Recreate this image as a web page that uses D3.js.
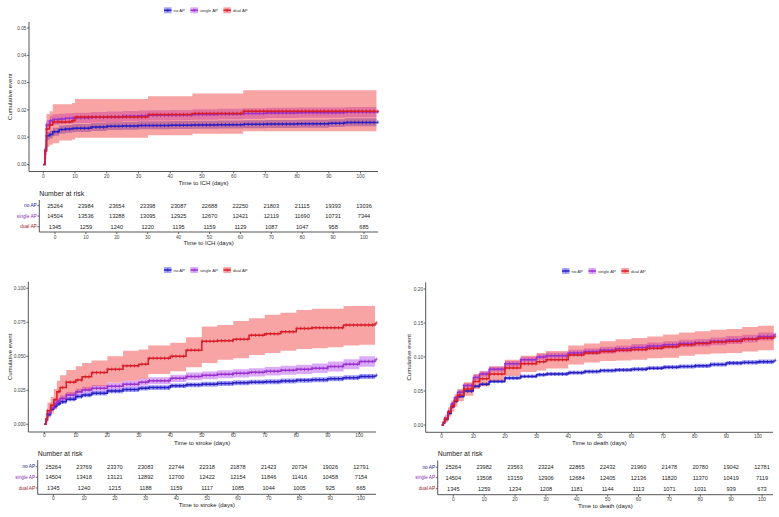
<!DOCTYPE html>
<html>
<head>
<meta charset="utf-8">
<script src="https://cdn.jsdelivr.net/npm/d3@7"></script>
<style>
  body { margin: 0; background: #fff; }
  svg { display: block; font-family: "Liberation Sans", Arial, sans-serif; }
</style>
</head>
<body>
<svg width="779" height="517"></svg>
<script>
// groups and colours
const groups = ['no AP', 'single AP', 'dual AP'];
const lineColors = ['#2a1fc0', '#9a32cd', '#d81e2a'];
const bandColors = ['#3030f0', '#b040f0', '#f03030'];
const labelColors = ['#1c1c8a', '#8a2bb0', '#9a1c1c'];
const xTicks = [0, 10, 20, 30, 40, 50, 60, 70, 80, 90, 100];

// ---- ICH ----
const ichTime = [0, 0.5, 1, 2, 3, 5, 7, 9, 10, 15, 20, 25, 30, 33, 40, 47, 55, 63, 70, 80, 90, 95, 105];
const ichNoEst = [0, 0.005, 0.0105, 0.011, 0.012, 0.0128, 0.013, 0.0132, 0.0133, 0.0137, 0.014, 0.0141, 0.0143, 0.0143, 0.0144, 0.0145, 0.0146, 0.0147, 0.0148, 0.0149, 0.0151, 0.0154, 0.0155];
const ichNoLo = [0, 0.0035, 0.009, 0.0095, 0.0105, 0.0113, 0.0116, 0.0118, 0.0119, 0.0123, 0.0126, 0.0127, 0.0129, 0.0129, 0.013, 0.0131, 0.0132, 0.0133, 0.0134, 0.0135, 0.0137, 0.014, 0.0141];
const ichNoHi = [0, 0.0065, 0.012, 0.0125, 0.0135, 0.0143, 0.0145, 0.0147, 0.0148, 0.0152, 0.0155, 0.0156, 0.0158, 0.0158, 0.0159, 0.016, 0.0161, 0.0162, 0.0163, 0.0164, 0.0166, 0.0169, 0.017];
const ichSingleEst = [0, 0.0055, 0.0145, 0.016, 0.0165, 0.0167, 0.0169, 0.017, 0.0171, 0.0173, 0.0175, 0.0177, 0.0179, 0.018, 0.0181, 0.0183, 0.0185, 0.0187, 0.0189, 0.019, 0.019, 0.0192, 0.0193];
const ichSingleLo = [0, 0.0035, 0.0127, 0.0141, 0.0146, 0.0148, 0.015, 0.0151, 0.0152, 0.0154, 0.0156, 0.0158, 0.016, 0.0161, 0.0162, 0.0164, 0.0166, 0.0168, 0.017, 0.0171, 0.0171, 0.0173, 0.0174];
const ichSingleHi = [0, 0.0075, 0.0163, 0.0179, 0.0184, 0.0186, 0.0188, 0.0189, 0.019, 0.0192, 0.0194, 0.0196, 0.0198, 0.0199, 0.02, 0.0202, 0.0204, 0.0206, 0.0208, 0.0209, 0.0209, 0.0211, 0.0212];
const ichDualEst = [0, 0.005, 0.013, 0.0145, 0.0156, 0.0156, 0.0156, 0.016, 0.0174, 0.0174, 0.0174, 0.0174, 0.0174, 0.0183, 0.0183, 0.0187, 0.0187, 0.0195, 0.0195, 0.0195, 0.0195, 0.0195, 0.0195];
const ichDualLo = [0, 0.002, 0.0065, 0.0072, 0.0078, 0.0088, 0.0088, 0.0092, 0.0098, 0.0098, 0.0098, 0.0098, 0.0098, 0.0107, 0.0107, 0.0113, 0.0113, 0.0122, 0.0122, 0.0122, 0.0122, 0.0122, 0.0122];
const ichDualHi = [0, 0.009, 0.0185, 0.0195, 0.0221, 0.0221, 0.0221, 0.0225, 0.024, 0.024, 0.024, 0.024, 0.024, 0.025, 0.025, 0.026, 0.026, 0.0272, 0.0272, 0.0272, 0.0272, 0.0272, 0.0272];
const ichYTicks = [0, 0.01, 0.02, 0.03, 0.04, 0.05];
const ichRiskNo = [25264, 23984, 23654, 23398, 23087, 22688, 22250, 21803, 21115, 19393, 13036];
const ichRiskSingle = [14504, 13536, 13288, 13095, 12925, 12670, 12421, 12119, 11690, 10731, 7344];
const ichRiskDual = [1345, 1259, 1240, 1220, 1195, 1159, 1129, 1087, 1047, 958, 685];

// ---- stroke ----
const strokeTime = [0, 0.5, 1, 2, 3, 4, 5, 7, 10, 12, 15, 20, 25, 30, 33, 40, 45, 50, 55, 60, 65, 70, 75, 80, 85, 90, 95, 100, 105];
const strokeNoEst = [0, 0.003, 0.007, 0.011, 0.013, 0.015, 0.0165, 0.0185, 0.0205, 0.0215, 0.0228, 0.0245, 0.0255, 0.0265, 0.027, 0.0283, 0.029, 0.0295, 0.03, 0.0305, 0.031, 0.0313, 0.0318, 0.0323, 0.0328, 0.0335, 0.0343, 0.0352, 0.036];
const strokeNoLo = [0, 0.002, 0.0058, 0.0097, 0.0116, 0.0135, 0.015, 0.0169, 0.0189, 0.0198, 0.0211, 0.0228, 0.0238, 0.0248, 0.0253, 0.0266, 0.0272, 0.0277, 0.0282, 0.0287, 0.0292, 0.0295, 0.03, 0.0305, 0.031, 0.0317, 0.0325, 0.0334, 0.0342];
const strokeNoHi = [0, 0.004, 0.0082, 0.0123, 0.0144, 0.0165, 0.018, 0.0201, 0.0221, 0.0232, 0.0245, 0.0262, 0.0272, 0.0282, 0.0287, 0.03, 0.0308, 0.0313, 0.0318, 0.0323, 0.0328, 0.0331, 0.0336, 0.0341, 0.0346, 0.0353, 0.0361, 0.037, 0.0378];
const strokeSingleEst = [0, 0.003, 0.008, 0.012, 0.015, 0.017, 0.019, 0.0215, 0.024, 0.0253, 0.0265, 0.028, 0.0295, 0.031, 0.032, 0.0338, 0.0352, 0.036, 0.0368, 0.0375, 0.0382, 0.039, 0.0397, 0.0404, 0.0412, 0.0425, 0.0442, 0.0462, 0.0478];
const strokeSingleLo = [0, 0.0018, 0.0064, 0.0102, 0.0131, 0.015, 0.0169, 0.0193, 0.0218, 0.023, 0.0241, 0.0256, 0.027, 0.0284, 0.0294, 0.0311, 0.0324, 0.0331, 0.0338, 0.0345, 0.0351, 0.0358, 0.0364, 0.037, 0.0377, 0.0389, 0.0405, 0.0424, 0.0448];
const strokeSingleHi = [0, 0.0042, 0.0096, 0.0138, 0.0169, 0.019, 0.0211, 0.0237, 0.0262, 0.0276, 0.0289, 0.0304, 0.032, 0.0336, 0.0346, 0.0365, 0.038, 0.0389, 0.0398, 0.0405, 0.0413, 0.0422, 0.043, 0.0438, 0.0447, 0.0461, 0.0479, 0.05, 0.0508];
const strokeDualEst = [0, 0.004, 0.01, 0.014, 0.018, 0.024, 0.027, 0.031, 0.0326, 0.035, 0.038, 0.0404, 0.043, 0.0442, 0.0485, 0.05, 0.0545, 0.061, 0.0615, 0.0625, 0.0655, 0.0665, 0.068, 0.0705, 0.071, 0.071, 0.073, 0.073, 0.0745];
const strokeDualLo = [0, 0.001, 0.005, 0.008, 0.011, 0.015, 0.018, 0.021, 0.023, 0.025, 0.028, 0.0305, 0.032, 0.0335, 0.037, 0.039, 0.042, 0.045, 0.0475, 0.0485, 0.051, 0.0525, 0.054, 0.0554, 0.056, 0.0566, 0.058, 0.0585, 0.059];
const strokeDualHi = [0, 0.008, 0.016, 0.02, 0.026, 0.032, 0.036, 0.04, 0.0426, 0.045, 0.047, 0.05, 0.054, 0.055, 0.058, 0.06, 0.064, 0.072, 0.073, 0.076, 0.078, 0.0805, 0.082, 0.084, 0.085, 0.085, 0.087, 0.087, 0.089];
const strokeYTicks = [0, 0.025, 0.05, 0.075, 0.1];
const strokeRiskNo = [25264, 23769, 23370, 23083, 22744, 22318, 21878, 21423, 20734, 19026, 12791];
const strokeRiskSingle = [14504, 13418, 13121, 12892, 12700, 12422, 12154, 11846, 11416, 10458, 7154];
const strokeRiskDual = [1345, 1240, 1215, 1188, 1159, 1117, 1085, 1044, 1005, 925, 665];

// ---- death ----
const deathTime = [0, 0.5, 1, 2, 3, 4, 5, 7, 10, 12, 15, 20, 25, 30, 33, 40, 45, 50, 55, 60, 65, 70, 75, 80, 85, 90, 95, 100, 105];
const deathNoEst = [0, 0.003, 0.008, 0.017, 0.027, 0.035, 0.042, 0.05, 0.057, 0.06, 0.064, 0.069, 0.0715, 0.074, 0.075, 0.077, 0.0785, 0.08, 0.081, 0.082, 0.0835, 0.085, 0.086, 0.087, 0.089, 0.091, 0.092, 0.093, 0.095];
const deathNoLo = [0, 0.002, 0.0068, 0.0155, 0.0252, 0.033, 0.0398, 0.0478, 0.0547, 0.0577, 0.0616, 0.0665, 0.069, 0.0714, 0.0724, 0.0744, 0.0758, 0.0773, 0.0783, 0.0792, 0.0807, 0.0821, 0.0831, 0.084, 0.086, 0.0879, 0.0889, 0.0898, 0.0917];
const deathNoHi = [0, 0.004, 0.0092, 0.0185, 0.0288, 0.037, 0.0442, 0.0522, 0.0593, 0.0623, 0.0664, 0.0715, 0.074, 0.0766, 0.0776, 0.0796, 0.0812, 0.0827, 0.0837, 0.0848, 0.0863, 0.0879, 0.0889, 0.09, 0.092, 0.0941, 0.0951, 0.0962, 0.0983];
const deathSingleEst = [0, 0.004, 0.01, 0.02, 0.031, 0.04, 0.048, 0.058, 0.07, 0.075, 0.082, 0.09, 0.096, 0.1, 0.102, 0.106, 0.108, 0.11, 0.112, 0.114, 0.116, 0.118, 0.12, 0.121, 0.123, 0.125, 0.127, 0.13, 0.133];
const deathSingleLo = [0, 0.0028, 0.0083, 0.0178, 0.0283, 0.037, 0.0447, 0.0545, 0.0662, 0.0711, 0.0779, 0.0857, 0.0916, 0.0955, 0.0974, 0.1013, 0.1032, 0.1051, 0.107, 0.1089, 0.1108, 0.1127, 0.1146, 0.1155, 0.1174, 0.1193, 0.1212, 0.1241, 0.1268];
const deathSingleHi = [0, 0.0052, 0.0117, 0.0222, 0.0337, 0.043, 0.0513, 0.0615, 0.0738, 0.0789, 0.0861, 0.0943, 0.1004, 0.1045, 0.1066, 0.1107, 0.1128, 0.1149, 0.117, 0.1191, 0.1212, 0.1233, 0.1254, 0.1265, 0.1286, 0.1307, 0.1328, 0.1359, 0.1392];
const deathDualEst = [0, 0.004, 0.009, 0.019, 0.028, 0.036, 0.044, 0.053, 0.064, 0.068, 0.075, 0.084, 0.09, 0.093, 0.096, 0.103, 0.106, 0.108, 0.11, 0.111, 0.113, 0.115, 0.118, 0.12, 0.122, 0.123, 0.126, 0.128, 0.13];
const deathDualLo = [0, 0.001, 0.004, 0.012, 0.02, 0.027, 0.035, 0.043, 0.053, 0.057, 0.064, 0.072, 0.078, 0.08, 0.083, 0.089, 0.092, 0.094, 0.095, 0.096, 0.098, 0.099, 0.102, 0.104, 0.105, 0.106, 0.108, 0.11, 0.112];
const deathDualHi = [0, 0.008, 0.015, 0.026, 0.036, 0.045, 0.053, 0.063, 0.075, 0.079, 0.086, 0.096, 0.102, 0.106, 0.109, 0.117, 0.12, 0.123, 0.126, 0.128, 0.13, 0.133, 0.136, 0.138, 0.14, 0.141, 0.144, 0.146, 0.148];
const deathYTicks = [0, 0.05, 0.1, 0.15, 0.2];
const deathRiskNo = [25264, 23982, 23563, 23224, 22865, 22432, 21960, 21478, 20780, 19042, 12781];
const deathRiskSingle = [14504, 13508, 13159, 12906, 12684, 12405, 12136, 11820, 11370, 10419, 7119];
const deathRiskDual = [1345, 1259, 1234, 1208, 1181, 1144, 1113, 1071, 1031, 939, 673];

const svg = d3.select('svg');

// layout of the three panels (pixel positions only)
const panels = [
  {
    time: ichTime,
    est: [ichNoEst, ichSingleEst, ichDualEst],
    lo: [ichNoLo, ichSingleLo, ichDualLo],
    hi: [ichNoHi, ichSingleHi, ichDualHi],
    risk: [ichRiskNo, ichRiskSingle, ichRiskDual],
    yTicks: ichYTicks, yFmt: '.2f', xTitle: 'Time to ICH (days)',
    plot: { left: 29, right: 378, x0: 43.3, x100: 360.6, top: 22, bottom: 171.5, y0: 164.5, yMaxPx: 28, tickY: 176.7, titleY: 183.3, ylabX: 10 },
    legend: { x: 164, y: 10.3 },
    table: { left: 39.3, right: 378, x0: 55, x100: 364, top: 200, bottom: 232, rows: [205.7, 216, 226.7], headY: 193.5, tickY: 237.3, titleY: 243.3 }
  },
  {
    time: strokeTime,
    est: [strokeNoEst, strokeSingleEst, strokeDualEst],
    lo: [strokeNoLo, strokeSingleLo, strokeDualLo],
    hi: [strokeNoHi, strokeSingleHi, strokeDualHi],
    risk: [strokeRiskNo, strokeRiskSingle, strokeRiskDual],
    yTicks: strokeYTicks, yFmt: '.3f', xTitle: 'Time to stroke (days)',
    plot: { left: 28.3, right: 376, x0: 44.3, x100: 359.3, top: 281.7, bottom: 432, y0: 424.3, yMaxPx: 288.3, tickY: 435.8, titleY: 442.7, ylabX: 10 },
    legend: { x: 164, y: 270 },
    table: { left: 37.7, right: 376, x0: 53.3, x100: 361, top: 460, bottom: 494.3, rows: [466.7, 477.3, 488], headY: 453.3, tickY: 498.8, titleY: 505.3 }
  },
  {
    time: deathTime,
    est: [deathNoEst, deathSingleEst, deathDualEst],
    lo: [deathNoLo, deathSingleLo, deathDualLo],
    hi: [deathNoHi, deathSingleHi, deathDualHi],
    risk: [deathRiskNo, deathRiskSingle, deathRiskDual],
    yTicks: deathYTicks, yFmt: '.2f', xTitle: 'Time to death (days)',
    plot: { left: 425.7, right: 773, x0: 441.7, x100: 758, top: 282.3, bottom: 432.3, y0: 425, yMaxPx: 289, tickY: 436, titleY: 442.7, ylabX: 409 },
    legend: { x: 562, y: 271 },
    table: { left: 437.7, right: 773, x0: 453.3, x100: 762, top: 460.5, bottom: 494.7, rows: [467.3, 477.7, 488.7], headY: 454, tickY: 499, titleY: 506 }
  }
];

const axisColor = '#444';

panels.forEach(drawPanel);

function drawPanel(p) {
  const P = p.plot;
  const yMax = d3.max(p.yTicks);
  const x = d3.scaleLinear().domain([0, 100]).range([P.x0, P.x100]);
  const y = d3.scaleLinear().domain([0, yMax]).range([P.y0, P.yMaxPx]);
  const g = svg.append('g');

  const area = d3.area().curve(d3.curveStepAfter)
    .x(d => x(d.t)).y0(d => y(d.lo)).y1(d => y(d.hi));
  const line = d3.line().curve(d3.curveStepAfter)
    .x(d => x(d.t)).y(d => y(d.v));

  const series = groups.map((name, i) => p.time.map((t, k) => ({
    t: t, v: p.est[i][k], lo: p.lo[i][k], hi: p.hi[i][k]
  })));

  // confidence bands
  series.forEach((s, i) => {
    g.append('path').datum(s)
      .attr('d', area)
      .attr('fill', bandColors[i])
      .attr('fill-opacity', 0.44);
  });

  // curves and censor marks
  const bis = d3.bisector(d => d.t).right;
  series.forEach((s, i) => {
    g.append('path').datum(s)
      .attr('d', line)
      .attr('fill', 'none')
      .attr('stroke', lineColors[i])
      .attr('stroke-width', 1.5);
    const marks = d3.range(1, 106, 1.2).map(t => ({ t: t, v: s[Math.max(0, bis(s, t) - 1)].v }));
    g.append('g').selectAll('path').data(marks).enter().append('path')
      .attr('d', d => `M${x(d.t)},${y(d.v) - 1.8}V${y(d.v) + 1.8}M${x(d.t) - 1.3},${y(d.v)}H${x(d.t) + 1.3}`)
      .attr('stroke', lineColors[i])
      .attr('stroke-width', 0.75);
  });

  // axes
  g.append('path')
    .attr('d', `M${P.left},${P.top}V${P.bottom}H${P.right}`)
    .attr('fill', 'none').attr('stroke', axisColor).attr('stroke-width', 0.9);

  p.yTicks.forEach(v => {
    g.append('line').attr('x1', P.left - 2).attr('x2', P.left)
      .attr('y1', y(v)).attr('y2', y(v)).attr('stroke', axisColor).attr('stroke-width', 0.8);
    g.append('text').attr('x', P.left - 2.5).attr('y', y(v)).attr('dy', '0.35em')
      .attr('text-anchor', 'end').attr('font-size', 4.8).attr('fill', '#444')
      .text(d3.format(p.yFmt)(v));
  });
  xTicks.forEach(v => {
    g.append('line').attr('x1', x(v)).attr('x2', x(v))
      .attr('y1', P.bottom).attr('y2', P.bottom + 2).attr('stroke', axisColor).attr('stroke-width', 0.8);
    g.append('text').attr('x', x(v)).attr('y', P.tickY).attr('dy', '0.35em')
      .attr('text-anchor', 'middle').attr('font-size', 4.8).attr('fill', '#444')
      .text(v);
  });
  g.append('text').attr('x', (P.left + P.right) / 2).attr('y', P.titleY).attr('dy', '0.35em')
    .attr('text-anchor', 'middle').attr('font-size', 6).attr('fill', '#222')
    .text(p.xTitle);
  g.append('text')
    .attr('transform', `translate(${P.ylabX},${(P.top + P.bottom) / 2}) rotate(-90)`)
    .attr('dy', '0.35em').attr('text-anchor', 'middle').attr('font-size', 6).attr('fill', '#222')
    .text('Cumulative event');

  // legend
  let lx = p.legend.x;
  groups.forEach((name, i) => {
    const lg = g.append('g').attr('transform', `translate(${lx},${p.legend.y})`);
    lg.append('rect').attr('x', 0).attr('y', -3).attr('width', 7.5).attr('height', 6)
      .attr('fill', bandColors[i]).attr('fill-opacity', 0.44);
    lg.append('line').attr('x1', 0).attr('x2', 7.5).attr('y1', 0).attr('y2', 0)
      .attr('stroke', lineColors[i]).attr('stroke-width', 1.5);
    lg.append('path').attr('d', 'M3.75,-1.6V1.6')
      .attr('stroke', lineColors[i]).attr('stroke-width', 0.8);
    const t = lg.append('text').attr('x', 9.5).attr('y', 0).attr('dy', '0.35em')
      .attr('font-size', 4.3).attr('fill', '#333').text(name);
    lx += 9.5 + t.node().getComputedTextLength() + 5.5;
  });

  // risk table
  const T = p.table;
  const tx = d3.scaleLinear().domain([0, 100]).range([T.x0, T.x100]);
  const tg = svg.append('g');
  tg.append('text').attr('x', T.left).attr('y', T.headY).attr('dy', '0.35em')
    .attr('font-size', 6.9).attr('fill', '#222').text('Number at risk');
  tg.append('path')
    .attr('d', `M${T.left},${T.top}V${T.bottom}H${T.right}`)
    .attr('fill', 'none').attr('stroke', axisColor).attr('stroke-width', 0.9);
  groups.forEach((name, i) => {
    const ry = T.rows[i];
    tg.append('line').attr('x1', T.left - 2).attr('x2', T.left).attr('y1', ry).attr('y2', ry)
      .attr('stroke', axisColor).attr('stroke-width', 0.8);
    tg.append('text').attr('x', T.left - 2.5).attr('y', ry).attr('dy', '0.35em')
      .attr('text-anchor', 'end').attr('font-size', 4.8).attr('fill', labelColors[i]).text(name);
    tg.append('g').selectAll('text').data(p.risk[i]).enter().append('text')
      .attr('x', (d, k) => tx(xTicks[k])).attr('y', ry).attr('dy', '0.35em')
      .attr('text-anchor', 'middle').attr('font-size', 5.6).attr('fill', '#222')
      .text(d => d);
  });
  xTicks.forEach(v => {
    tg.append('line').attr('x1', tx(v)).attr('x2', tx(v))
      .attr('y1', T.bottom).attr('y2', T.bottom + 2).attr('stroke', axisColor).attr('stroke-width', 0.8);
    tg.append('text').attr('x', tx(v)).attr('y', T.tickY).attr('dy', '0.35em')
      .attr('text-anchor', 'middle').attr('font-size', 4.8).attr('fill', '#444').text(v);
  });
  tg.append('text').attr('x', (T.left + T.right) / 2).attr('y', T.titleY).attr('dy', '0.35em')
    .attr('text-anchor', 'middle').attr('font-size', 6).attr('fill', '#222').text(p.xTitle);
}
</script>
</body>
</html>
